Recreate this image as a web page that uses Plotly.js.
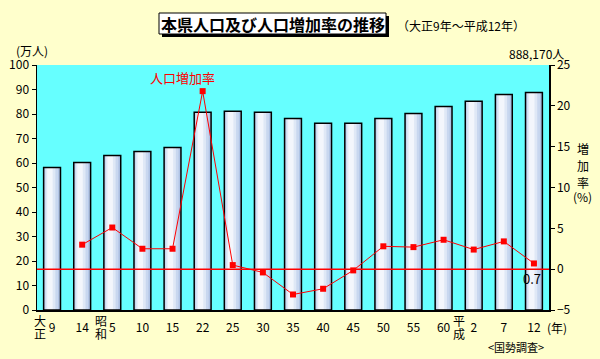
<!DOCTYPE html>
<html><head><meta charset="utf-8">
<script src="https://cdn.plot.ly/plotly-3.0.1.min.js"></script>
<style>html,body{margin:0;padding:0;background:#FFFFCC;}#chart{width:600px;height:359px;}</style>
</head><body><div id="chart"></div>
<script>
// ---- data ----
const years = ['9','14','5','10','15','22','25','30','35','40','45','50','55','60','2','7','12'];
const population = [58.2,60.2,63.1,64.7,66.3,80.7,81.1,80.7,78.2,76.2,76.2,78.2,80.2,83.1,85.2,88.0,88.8]; // 万人
const growthRate = [null,3.0,5.1,2.5,2.5,21.8,0.5,-0.4,-3.1,-2.4,-0.15,2.8,2.7,3.6,2.4,3.4,0.7]; // %
const eraNames = ['大正','昭和','平成'];
const eraIndex = [0,2,14];
const titleText = '本県人口及び人口増加率の推移';
const subTitleText = '（大正9年～平成12年）';
const lastPopText = '888,170人';

// ---- layout helpers ----
const L=37,R=549,T=65,B=310;
const px = x => (x-L)/(R-L);
const py = y => (B-y)/(B-T);
const FONT = 'Noto Sans CJK JP, Noto Sans, sans-serif';

function barLayer(offset,width,color,line){
  return {type:'bar',x:years,y:population,offset:offset,width:width,
    marker:{color:color,line:line||{width:0}},hoverinfo:'skip',showlegend:false};
}
const traces = [
  barLayer(-0.28,0.56,'#b0c4e6'),
  barLayer(-0.25,0.45,'#c8d7ef'),
  barLayer(-0.21,0.32,'#dfe8f6'),
  barLayer(-0.16,0.18,'#f3f6fc'),
  barLayer(-0.28,0.56,'rgba(0,0,0,0)',{color:'#000',width:1.5}),
  {type:'scatter',mode:'lines+markers',x:years,y:growthRate,yaxis:'y2',
   line:{color:'#FF0000',width:1},marker:{symbol:'square',size:6,color:'#FF0000'},
   connectgaps:false,hoverinfo:'skip',showlegend:false}
];

const ann = [];
function A(text,x,y,opt){ann.push(Object.assign({text:text,x:px(x),y:py(y),xref:'paper',yref:'paper',
  showarrow:false,xanchor:'center',yanchor:'middle',font:{family:FONT,size:12,color:'#000'}},opt||{}));}
A('<b>'+titleText+'</b>',272.5,24,{font:{family:FONT,size:16,color:'#000'}});
A(subTitleText,461,25);
A('(万人)',32,51);
A(lastPopText,536,53);
A('人口増加率',182.5,77,{font:{family:FONT,size:13,color:'#FF0000'}});
A('増',583,148); A('加',583,165); A('率',583,182); A('(%)',582,196);
A('(年)',557,327);
A('<国勢調査>',515.5,347,{font:{family:FONT,size:11,color:'#000'}});
const eraShift=[-12,-11,-15];
eraNames.forEach((n,i)=>{
  [0,1].forEach(k=>{
    ann.push({text:n[k],x:eraIndex[i],xref:'x',y:py(k?333:320),yref:'paper',xshift:eraShift[i],
      showarrow:false,xanchor:'center',yanchor:'middle',font:{family:FONT,size:12,color:'#000'}});
  });
});
const li = growthRate.length-1;
ann.push({text:growthRate[li].toFixed(1),x:li,xref:'x',y:0,yref:'y2',yshift:-9,xshift:-2,
  showarrow:false,xanchor:'center',yanchor:'middle',font:{family:FONT,size:13,color:'#000'}});

const layout = {
  width:600,height:359,margin:{l:L,r:600-R,t:T,b:359-B,pad:0},
  paper_bgcolor:'#FFFFCC',plot_bgcolor:'#66FFFF',barmode:'overlay',
  font:{family:FONT,size:12,color:'#000'},hovermode:false,showlegend:false,
  xaxis:{type:'category',categoryorder:'array',categoryarray:years,range:[-0.5,years.length-0.5],autorange:false,
    showline:true,linecolor:'#000',linewidth:1.5,ticks:'',showgrid:false,
    zeroline:false,tickfont:{family:FONT,size:12},ticklabelstandoff:6,fixedrange:true},
  yaxis:{range:[0,100],dtick:10,showline:true,linecolor:'#000',linewidth:1.5,ticks:'outside',ticklen:4,
    tickcolor:'#000',showgrid:false,zeroline:false,tickfont:{family:FONT,size:12},fixedrange:true},
  yaxis2:{overlaying:'y',side:'right',range:[-5,25],dtick:5,showline:true,linecolor:'#000',linewidth:1.5,
    ticks:'outside',ticklen:4,tickcolor:'#000',showgrid:false,zeroline:false,tickfont:{family:FONT,size:12},fixedrange:true},
  shapes:[
    {type:'line',xref:'paper',yref:'y2',x0:0,x1:1,y0:0,y1:0,line:{color:'#FF0000',width:1.5},layer:'above'},
    {type:'rect',xref:'paper',yref:'paper',x0:px(162),x1:px(389),y0:py(16),y1:py(37),fillcolor:'#000',line:{width:0},layer:'above'},
    {type:'rect',xref:'paper',yref:'paper',x0:px(159),x1:px(386),y0:py(13),y1:py(34),fillcolor:'#FFFFFF',line:{color:'#000',width:1},layer:'above'}
  ],
  annotations:ann
};
Plotly.newPlot('chart',traces,layout,{staticPlot:true,displayModeBar:false});
</script></body></html>
